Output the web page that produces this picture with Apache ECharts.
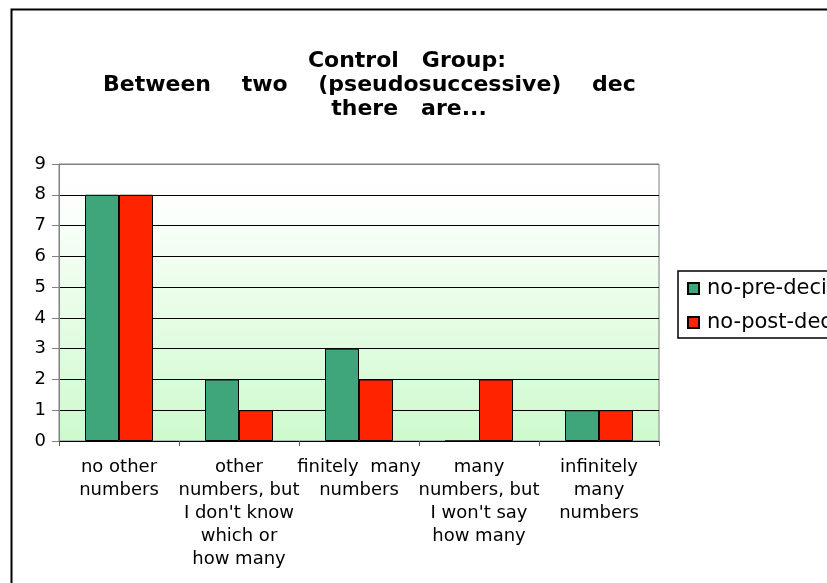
<!DOCTYPE html>
<html>
<head>
<meta charset="utf-8">
<script src="https://cdn.jsdelivr.net/npm/echarts@6/dist/echarts.min.js"></script>
<style>
  html, body { margin: 0; padding: 0; background: #fff; }
  #chart { width: 827px; height: 583px; }
</style>
</head>
<body>
<div id="chart"></div>
<script>
var categories = [
  'no other\nnumbers',
  'other\nnumbers, but\nI don\'t know\nwhich or\nhow many',
  'finitely  many\nnumbers',
  'many\nnumbers, but\nI won\'t say\nhow many',
  'infinitely\nmany\nnumbers'
];
var preValues = [8, 2, 3, 0, 1];
var postValues = [8, 1, 2, 2, 1];
var seriesNames = ['no-pre-decimals', 'no-post-decimals'];
var titleLines = ['Control   Group:', 'Between    two    (pseudosuccessive)    dec', 'there   are...'];

var chart = echarts.init(document.getElementById('chart'), null, { renderer: 'canvas' });

var font = 'DejaVu Sans';
var titleStyle = { fontFamily: font, fontSize: 22, fontWeight: 'bold', color: '#000' };

// top gridline (9) is part of the grey plot frame, the rest are black
var splitColors = ['#000', '#000', '#000', '#000', '#000', '#000', '#000', '#000', '#000', '#808080'];

var option = {
  backgroundColor: '#ffffff',
  animation: false,
  textStyle: { fontFamily: font },
  title: [
    { text: titleLines[0], left: 402, top: 45, textAlign: 'center', textStyle: titleStyle },
    { text: titleLines[1], left: 98, top: 69, textStyle: titleStyle },
    { text: titleLines[2], left: 404, top: 93, textAlign: 'center', textStyle: titleStyle }
  ],
  legend: {
    orient: 'vertical',
    left: 678,
    top: 271,
    padding: [7, 40, 5, 9],
    itemGap: 13,
    itemWidth: 11,
    itemHeight: 11,
    icon: 'rect',
    borderColor: '#000',
    borderWidth: 1.5,
    textStyle: { fontFamily: font, fontSize: 21, lineHeight: 18, color: '#000', padding: [0, 0, 0, 3] },
    data: seriesNames
  },
  grid: {
    left: 59,
    right: 168,
    top: 164,
    bottom: 142,
    show: true,
    borderColor: '#808080',
    borderWidth: 1,
    backgroundColor: new echarts.graphic.LinearGradient(0, 0, 0, 1, [
      { offset: 0, color: '#ffffff' },
      { offset: 0.12, color: '#fdfffd' },
      { offset: 1, color: '#cdfacd' }
    ])
  },
  xAxis: {
    type: 'category',
    data: categories,
    axisLine: { lineStyle: { color: '#000', width: 1 } },
    axisTick: { show: true, length: 5, lineStyle: { color: '#555' } },
    axisLabel: {
      interval: 0,
      margin: 15,
      fontFamily: font,
      fontSize: 18,
      lineHeight: 23,
      color: '#000',
      align: 'center'
    }
  },
  yAxis: {
    type: 'value',
    min: 0,
    max: 9,
    interval: 1,
    axisLine: { show: true, lineStyle: { color: '#808080' } },
    axisTick: { show: true, length: 7, lineStyle: { color: '#808080' } },
    axisLabel: { fontFamily: font, fontSize: 18, color: '#000', margin: 13 },
    splitLine: { show: true, lineStyle: { color: splitColors, width: 1 } }
  },
  series: [
    {
      name: seriesNames[0],
      type: 'bar',
      data: preValues,
      barWidth: 34,
      barGap: '0%',
      itemStyle: { color: '#3ea67a', borderColor: '#000', borderWidth: 1 }
    },
    {
      name: seriesNames[1],
      type: 'bar',
      data: postValues,
      barWidth: 34,
      barGap: '0%',
      itemStyle: { color: '#ff2400', borderColor: '#000', borderWidth: 1 }
    }
  ],
  graphic: [
    {
      type: 'rect',
      left: 9,
      top: 7,
      shape: { width: 840, height: 600 },
      style: { fill: 'none', stroke: '#000', lineWidth: 2 },
      silent: true
    }
  ]
};

chart.setOption(option);
</script>
</body>
</html>
